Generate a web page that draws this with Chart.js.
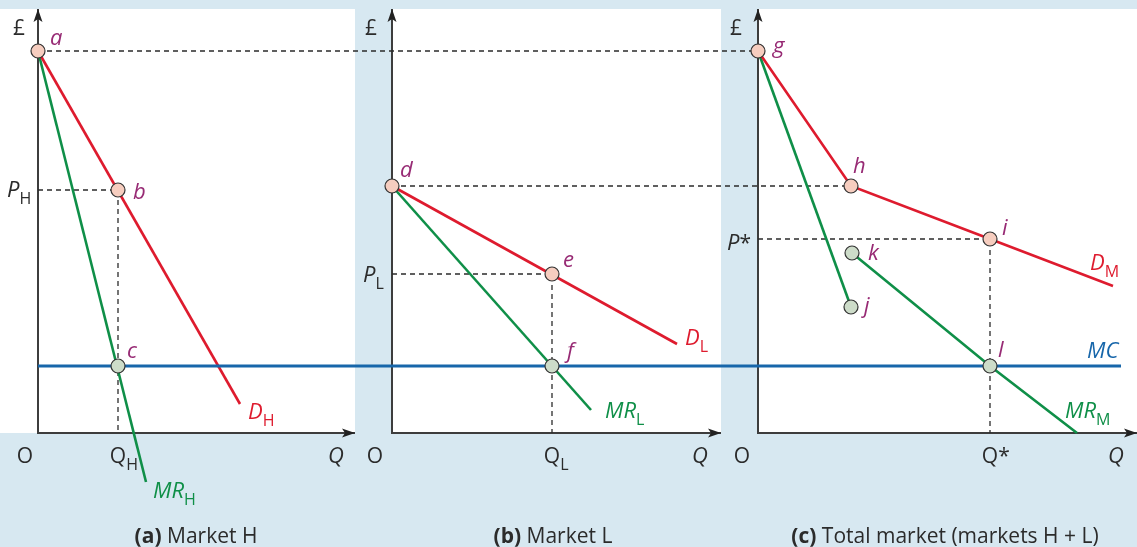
<!DOCTYPE html>
<html>
<head>
    <title>Third-degree price discrimination</title>
    <script src="https://cdn.jsdelivr.net/npm/chart.js@4.4.0/dist/chart.umd.min.js"></script>
    <style>
        body { margin: 0; background: #d7e8f1; }
        canvas { display: block; }
    </style>
</head>
<body>
    <canvas id="diagram" width="1137" height="547"></canvas>

    <script>
        // Values. Each panel measures Q from its own origin O,
        // the price axis (£) is shared by all three panels. Points are [Q, P].

        // (a) Market H
        const demandH = [[0, 95.5], [50.5, 7.25]];
        const mrH = [[0, 95.5], [27, -12.25]];
        const pointA = [0, 95.5], pointB = [20, 60.75], pointC = [20, 16.75];

        // (b) Market L
        const demandL = [[0, 61.75], [71.25, 22.25]];
        const mrL = [[0, 61.75], [49.75, 5.75]];
        const pointD = [0, 61.75], pointE = [40, 39.75], pointF = [40, 16.75];

        // (c) Total market (H + L)
        const demandM = [[0, 95.5], [23.25, 61.75], [58, 48.5], [88.75, 36.75]];
        const mrMUpper = [[0, 95.5], [23.25, 31.5]];
        const mrMLower = [[23.5, 45], [58, 16.75], [79.75, 0]];
        const pointG = [0, 95.5], pointH = [23.25, 61.75], pointI = [58, 48.5];
        const pointJ = [23.25, 31.5], pointK = [23.5, 45], pointL = [58, 16.75];

        const mc = 16.75;          // marginal cost, same in all markets
        const mcEndQ = 90.75;      // where the MC line stops in panel (c)
        const priceH = 60.75, priceL = 39.75, priceStar = 48.5;
        const qtyH = 20, qtyL = 40, qtyStar = 58;

        // layout: where each panel's O sits on the one shared x scale
        const panelOrigin = [9.5, 98, 189.5];
        const panelLeft = [-9.5, 0, 0];
        const axisEnd = [79.25, 82.25, 94.75];
        const priceTop = 106;

        const RED = '#de1b2e', GREEN = '#0f8f48', BLUE = '#1766aa';
        const PURPLE = '#972a74', INK = '#2b2b2b', AXIS = '#3d3d3d';
        const FONT = '"Open Sans", "Noto Sans", sans-serif';

        function onPanel(i, pts) {
            return pts.map(function(p) { return { x: panelOrigin[i] + p[0], y: p[1] }; });
        }

        function line(data, color, width) {
            return { data: data, borderColor: color, borderWidth: width, showLine: true,
                     pointRadius: 0, fill: false, tension: 0 };
        }
        function dashed(data) {
            return { data: data, borderColor: INK, borderWidth: 1.3, borderDash: [5, 4],
                     showLine: true, pointRadius: 0, fill: false };
        }
        function dots(data, fill) {
            return { data: data, showLine: false, pointRadius: 7, pointHoverRadius: 7,
                     backgroundColor: fill, borderColor: '#333', borderWidth: 1.2 };
        }

        // first dataset is drawn last, so dots go on top
        const datasets = [
            dots([].concat(onPanel(0, [pointA, pointB]), onPanel(1, [pointD, pointE]),
                           onPanel(2, [pointG, pointH, pointI])), '#f6cdbf'),
            dots([].concat(onPanel(0, [pointC]), onPanel(1, [pointF]),
                           onPanel(2, [pointJ, pointK, pointL])), '#cddcc9'),
            line([].concat(onPanel(0, [[0, mc]]), onPanel(2, [[mcEndQ, mc]])), BLUE, 3),
            line(onPanel(0, demandH), RED, 2.6),
            line(onPanel(1, demandL), RED, 2.6),
            line(onPanel(2, demandM), RED, 2.6),
            line(onPanel(0, mrH), GREEN, 2.6),
            line(onPanel(1, mrL), GREEN, 2.6),
            line(onPanel(2, mrMUpper), GREEN, 2.6),
            line(onPanel(2, mrMLower), GREEN, 2.6),
            dashed([].concat(onPanel(0, [pointA]), onPanel(2, [pointG]))),
            dashed([].concat(onPanel(1, [pointD]), onPanel(2, [pointH]))),
            dashed(onPanel(0, [[0, priceH], [qtyH, priceH], [qtyH, 0]])),
            dashed(onPanel(1, [[0, priceL], [qtyL, priceL], [qtyL, 0]])),
            dashed(onPanel(2, [[0, priceStar], [qtyStar, priceStar], [qtyStar, 0]]))
        ];
        [0, 1, 2].forEach(function(i) {
            datasets.push(line(onPanel(i, [[0, priceTop], [0, 0], [axisEnd[i], 0]]), AXIS, 2));
        });

        // text labels: anchored to a value in a panel, nudged by a few pixels
        const ital = 'italic 22px ' + FONT, reg = '21px ' + FONT, small = '16px ' + FONT;
        const labels = [
            // (a)
            { p: 0, at: [0, priceTop], dx: -19, dy: 26, text: '£', font: reg, color: INK, align: 'center' },
            { p: 0, at: pointA, dx: 12, dy: -6, text: 'a', font: ital, color: PURPLE },
            { p: 0, at: pointB, dx: 15, dy: 9, text: 'b', font: ital, color: PURPLE },
            { p: 0, at: pointC, dx: 9, dy: -8, text: 'c', font: ital, color: PURPLE },
            { p: 0, at: demandH[1], dx: 8, dy: 15, text: 'D', sub: 'H', font: ital, color: RED },
            { p: 0, at: mrH[1], dx: 7, dy: 16, text: 'MR', sub: 'H', font: ital, color: GREEN },
            { p: 0, at: [0, priceH], dx: -31, dy: 7, text: 'P', sub: 'H', font: ital, color: INK },
            { p: 0, at: [0, 0], dx: -13, dy: 30, text: 'O', font: reg, color: INK, align: 'center' },
            { p: 0, at: [qtyH, 0], dx: 0, dy: 30, text: 'Q', sub: 'H', font: reg, color: INK, align: 'center' },
            { p: 0, at: [axisEnd[0], 0], dx: -19, dy: 30, text: 'Q', font: ital, color: INK, align: 'center' },
            // (b)
            { p: 1, at: [0, priceTop], dx: -21, dy: 26, text: '£', font: reg, color: INK, align: 'center' },
            { p: 1, at: pointD, dx: 8, dy: -9, text: 'd', font: ital, color: PURPLE },
            { p: 1, at: pointE, dx: 11, dy: -7, text: 'e', font: ital, color: PURPLE },
            { p: 1, at: pointF, dx: 15, dy: -8, text: 'f', font: ital, color: PURPLE },
            { p: 1, at: demandL[1], dx: 8, dy: 1, text: 'D', sub: 'L', font: ital, color: RED },
            { p: 1, at: mrL[1], dx: 14, dy: 8, text: 'MR', sub: 'L', font: ital, color: GREEN },
            { p: 1, at: [0, priceL], dx: -29, dy: 8, text: 'P', sub: 'L', font: ital, color: INK },
            { p: 1, at: [0, 0], dx: -17, dy: 30, text: 'O', font: reg, color: INK, align: 'center' },
            { p: 1, at: [qtyL, 0], dx: 0, dy: 30, text: 'Q', sub: 'L', font: reg, color: INK, align: 'center' },
            { p: 1, at: [axisEnd[1], 0], dx: -21, dy: 30, text: 'Q', font: ital, color: INK, align: 'center' },
            // (c)
            { p: 2, at: [0, priceTop], dx: -22, dy: 26, text: '£', font: reg, color: INK, align: 'center' },
            { p: 2, at: pointG, dx: 15, dy: 2, text: 'g', font: ital, color: PURPLE },
            { p: 2, at: pointH, dx: 2, dy: -13, text: 'h', font: ital, color: PURPLE },
            { p: 2, at: pointI, dx: 12, dy: -4, text: 'i', font: ital, color: PURPLE },
            { p: 2, at: pointJ, dx: 13, dy: 6, text: 'j', font: ital, color: PURPLE },
            { p: 2, at: pointK, dx: 16, dy: 7, text: 'k', font: ital, color: PURPLE },
            { p: 2, at: pointL, dx: 8, dy: -9, text: 'l', font: ital, color: PURPLE },
            { p: 2, at: demandM[3], dx: -23, dy: -16, text: 'D', sub: 'M', font: ital, color: RED },
            { p: 2, at: mrMLower[2], dx: -12, dy: -15, text: 'MR', sub: 'M', font: ital, color: GREEN },
            { p: 2, at: [mcEndQ, mc], dx: -34, dy: -8, text: 'MC', font: ital, color: BLUE },
            { p: 2, at: [0, priceStar], dx: -31, dy: 11, text: 'P', sub: '*', subFont: reg, subDy: 0, font: ital, color: INK },
            { p: 2, at: [0, 0], dx: -16, dy: 30, text: 'O', font: reg, color: INK, align: 'center' },
            { p: 2, at: [qtyStar, 0], dx: 0, dy: 30, text: 'Q', sub: '*', subFont: reg, subDy: 0, font: reg, color: INK, align: 'center' },
            { p: 2, at: [axisEnd[2], 0], dx: -21, dy: 30, text: 'Q', font: ital, color: INK, align: 'center' }
        ];
        const titles = [
            { p: 0, dx: 158, bold: '(a)', text: ' Market H' },
            { p: 1, dx: 161, bold: '(b)', text: ' Market L' },
            { p: 2, dx: 187, bold: '(c)', text: ' Total market (markets H + L)' }
        ];

        function px(chart, i, v) {
            return {
                x: chart.scales.x.getPixelForValue(panelOrigin[i] + v[0]),
                y: chart.scales.y.getPixelForValue(v[1])
            };
        }

        function arrowHead(ctx, x, y, angle) {
            ctx.save();
            ctx.translate(x, y);
            ctx.rotate(angle);
            ctx.beginPath();
            ctx.moveTo(0, 0);
            ctx.lineTo(-13, -4.5);
            ctx.lineTo(-10, 0);
            ctx.lineTo(-13, 4.5);
            ctx.closePath();
            ctx.fillStyle = '#222';
            ctx.fill();
            ctx.restore();
        }

        const diagramPlugin = {
            id: 'diagram',
            beforeDraw: function(chart) {
                const ctx = chart.ctx;
                ctx.save();
                ctx.fillStyle = '#d7e8f1';
                ctx.fillRect(0, 0, chart.width, chart.height);
                ctx.fillStyle = '#ffffff';
                [0, 1, 2].forEach(function(i) {
                    const tl = px(chart, i, [panelLeft[i], priceTop]);
                    const br = px(chart, i, [axisEnd[i], 0]);
                    ctx.fillRect(tl.x, tl.y, br.x - tl.x, br.y - tl.y);
                });
                ctx.restore();
            },
            afterDatasetsDraw: function(chart) {
                const ctx = chart.ctx;
                ctx.save();
                [0, 1, 2].forEach(function(i) {
                    const top = px(chart, i, [0, priceTop]);
                    const right = px(chart, i, [axisEnd[i], 0]);
                    arrowHead(ctx, top.x, top.y, -Math.PI / 2);
                    arrowHead(ctx, right.x, right.y, 0);
                });

                ctx.textBaseline = 'alphabetic';
                ctx.textAlign = 'left';
                labels.forEach(function(l) {
                    const pos = px(chart, l.p, l.at);
                    ctx.font = l.font;
                    const w = ctx.measureText(l.text).width;
                    let x = pos.x + l.dx;
                    const y = pos.y + l.dy;
                    if (l.align === 'center') x -= w / 2;
                    ctx.fillStyle = l.color;
                    ctx.fillText(l.text, x, y);
                    if (l.sub) {
                        ctx.font = l.subFont || small;
                        ctx.fillText(l.sub, x + w, y + (l.subDy !== undefined ? l.subDy : 7));
                    }
                });

                titles.forEach(function(t) {
                    const pos = px(chart, t.p, [0, 0]);
                    ctx.font = 'bold 21px ' + FONT;
                    const wb = ctx.measureText(t.bold).width;
                    ctx.font = '21px ' + FONT;
                    const wt = ctx.measureText(t.text).width;
                    const x = pos.x + t.dx - (wb + wt) / 2;
                    const y = pos.y + 110;
                    ctx.fillStyle = INK;
                    ctx.font = 'bold 21px ' + FONT;
                    ctx.fillText(t.bold, x, y);
                    ctx.font = '21px ' + FONT;
                    ctx.fillText(t.text, x + wb, y);
                });
                ctx.restore();
            }
        };

        new Chart(document.getElementById('diagram'), {
            type: 'scatter',
            data: { datasets: datasets },
            options: {
                responsive: false,
                animation: false,
                layout: { padding: 0, autoPadding: false },
                plugins: { legend: { display: false }, tooltip: { enabled: false } },
                events: [],
                scales: {
                    x: { type: 'linear', min: 0, max: 284.25, display: false },
                    y: { type: 'linear', min: -28.5, max: 108.25, display: false }
                }
            },
            plugins: [diagramPlugin]
        });
    </script>
</body>
</html>
